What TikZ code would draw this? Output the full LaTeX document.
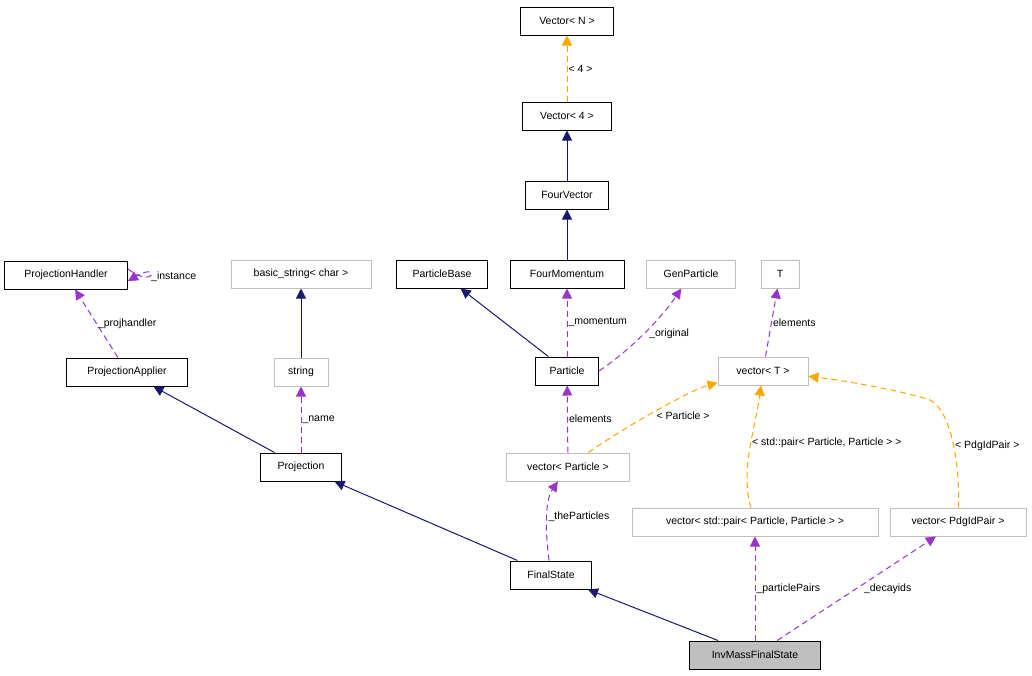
\documentclass[tikz,border=0pt]{standalone}
\usepackage{fontspec}
\setmainfont{Liberation Sans}
\usetikzlibrary{arrows.meta}
\definecolor{navy}{RGB}{25,25,112}
\definecolor{dpurple}{RGB}{154,50,205}
\definecolor{dorange}{RGB}{255,165,0}
\definecolor{lgray}{RGB}{191,191,191}
\tikzset{
	cls/.style={draw=black,fill=white,line width=1pt,inner sep=0pt,minimum height=28pt,font=\fontsize{10.5}{12}\selectfont},
	ext/.style={cls,draw=lgray},
	inh/.style={navy,line width=1pt,-{Triangle[length=10pt,width=10pt]}},
	use/.style={dpurple,line width=1pt,dash pattern=on 6pt off 4pt,-{Triangle[length=10pt,width=10pt]}},
	tpl/.style={dorange,line width=1pt,dash pattern=on 6pt off 4pt,-{Triangle[length=10pt,width=10pt]}},
	lbl/.style={text=black,font=\fontsize{10.5}{12}\selectfont,inner sep=1pt}
}
\begin{document}
\begin{tikzpicture}[x=1pt,y=-1pt]
\useasboundingbox (0,0) rectangle (1032,675);
% classes
\node[cls,minimum width=93pt] (vecN) at (567,21) {Vector< N >};
\node[cls,minimum width=89pt] (vec4) at (567,116) {Vector< 4 >};
\node[cls,minimum width=83pt] (fvec) at (567,195) {FourVector};
\node[cls,minimum width=114pt] (fmom) at (567,274) {FourMomentum};
\node[ext,minimum width=89pt] (genp) at (691,274) {GenParticle};
\node[ext,minimum width=38pt] (T) at (780,274) {T};
\node[cls,minimum width=91pt] (pbase) at (442,274) {ParticleBase};
\node[ext,minimum width=140pt] (bstr) at (301,274) {basic\_string< char >};
\node[cls,minimum width=123pt] (phand) at (66,275) {ProjectionHandler};
\node[cls,minimum width=121pt] (papp) at (127,372) {ProjectionApplier};
\node[ext,minimum width=54pt] (str) at (301,372) {string};
\node[cls,minimum width=63pt] (part) at (567,371) {Particle};
\node[ext,minimum width=90pt] (vecT) at (763,371) {vector< T >};
\node[cls,minimum width=81pt] (proj) at (301,467) {Projection};
\node[ext,minimum width=123pt] (vpart) at (568,467) {vector< Particle >};
\node[ext,minimum width=246pt] (vpair) at (755,522) {vector< std::pair< Particle, Particle > >};
\node[ext,minimum width=136pt] (vpdg) at (958,522) {vector< PdgIdPair >};
\node[cls,minimum width=81pt] (fs) at (551,575) {FinalState};
\node[cls,fill=lgray,minimum width=131pt] (imfs) at (755,655) {InvMassFinalState};
% connectors
\draw[tpl] (vec4) -- node[lbl,right] {< 4 >} (vecN);
\draw[inh] (fvec) -- (vec4);
\draw[inh] (fmom) -- (fvec);
\draw[use] (part) -- node[lbl,right] {\_momentum} (fmom);
\draw[use] (part.east) .. controls (630,350) and (660,320) .. node[lbl,right=4pt] {\_original} (genp);
\draw[inh] (part) -- (pbase);
\draw[use] ([yshift=6pt]phand.east) .. controls (155,290) and (160,262) .. node[lbl,right,pos=0.45] {\_instance} ([yshift=-6pt]phand.east);
\draw[use] (papp) -- node[lbl,right] {\_projhandler} (phand);
\draw[inh] (str) -- (bstr);
\draw[inh] (proj) -- (papp);
\draw[use] (proj) -- node[lbl,right] {\_name} (str);
\draw[use] (vecT) -- node[lbl,right] {elements} (T);
\draw[use] (vpart) -- node[lbl,right] {elements} (part);
\draw[tpl] (vpart) .. controls (620,430) and (690,390) .. node[lbl,right=8pt,pos=0.45] {< Particle >} (vecT);
\draw[tpl] (vpair) .. controls (740,470) and (755,430) .. node[lbl,right,pos=0.55] {< std::pair< Particle, Particle > >} (vecT);
\draw[tpl] (vpdg) .. controls (960,460) and (950,410) .. node[lbl,right,pos=0.45] {< PdgIdPair >} (930,400) .. controls (900,390) and (840,380) .. (vecT);
\draw[inh] (fs) -- (proj);
\draw[use] (fs) .. controls (545,530) and (545,500) .. node[lbl,right] {\_theParticles} (vpart);
\draw[inh] (imfs) -- (fs);
\draw[use] (imfs) -- node[lbl,right] {\_particlePairs} (vpair);
\draw[use] (imfs) -- node[lbl,right=6pt] {\_decayids} (vpdg);
\end{tikzpicture}
\end{document}
